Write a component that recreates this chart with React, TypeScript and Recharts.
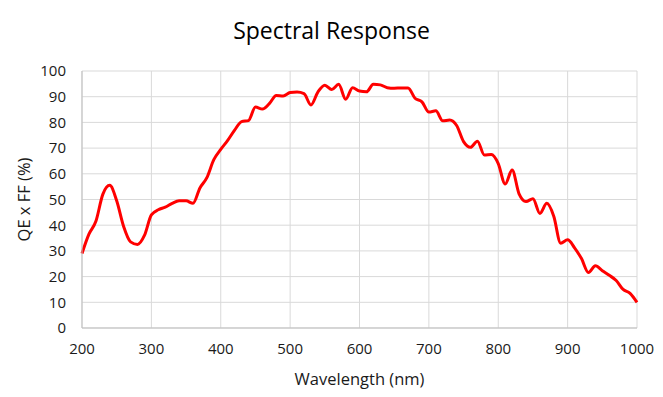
import { CartesianGrid, Label, Line, LineChart, XAxis, YAxis } from 'recharts';

// wavelength (nm) and QE x FF (%)
const wavelengths = [
  200, 210, 220, 230, 240, 250, 260, 270, 280, 290, 300, 310, 320, 330, 340, 350, 360, 370, 380, 390,
  400, 410, 420, 430, 440, 450, 460, 470, 480, 490, 500, 510, 520, 530, 540, 550, 560, 570, 580, 590,
  600, 610, 620, 630, 640, 650, 660, 670, 680, 690, 700, 710, 720, 730, 740, 750, 760, 770, 780, 790,
  800, 810, 820, 830, 840, 850, 860, 870, 880, 890, 900, 910, 920, 930, 940, 950, 960, 970, 980, 990,
  1000,
];
const qeff = [
  29, 36.5, 41.5, 52, 55.5, 49.5, 39.5, 33.5, 32.5, 36, 44, 46, 47, 48.5, 49.5, 49.5, 48.5, 54.5, 58.5, 65.5,
  69.5, 73, 77, 80.3, 80.7, 86, 85.2, 87.3, 90.5, 90.3, 91.6, 91.8, 91.2, 86.8, 91.8, 94.5, 92.8, 94.8, 89, 93.5,
  92.2, 91.9, 94.8, 94.6, 93.5, 93.3, 93.4, 93.4, 89.4, 88, 84, 84.5, 80.6, 80.9, 78.8, 72.5, 70.3, 72.7, 67.3, 67.5,
  64, 56, 61.5, 52.2, 49.2, 50.3, 44.6, 48.5, 43.5, 33, 34.3, 31.2, 27, 21.6, 24.2, 22.3, 20.5, 18.5, 15, 13.5,
  10,
];
const xTicks = [200, 300, 400, 500, 600, 700, 800, 900, 1000];
const yTicks = [0, 10, 20, 30, 40, 50, 60, 70, 80, 90, 100];

const data = wavelengths.map((w, i) => ({ w, qe: qeff[i] }));

const font = '"Open Sans", "Liberation Sans", sans-serif';
const tickStyle = { fontSize: 15, fill: '#1a1a1a', fontFamily: font };
const labelStyle = { fontSize: 16.5, fill: '#1a1a1a', fontFamily: font };

export default function App() {
  return (
    <div style={{ position: 'fixed', left: 0, top: 0, width: 663, height: 397, background: '#fff', fontFamily: font }}>
      <div
        style={{
          position: 'absolute',
          top: 14,
          width: 663,
          textAlign: 'center',
          fontSize: 23,
          color: '#000',
        }}
      >
        Spectral Response
      </div>
      <LineChart width={663} height={397} data={data} margin={{ top: 71, right: 26, left: 0, bottom: 0 }}>
        <CartesianGrid stroke="#d9d9d9" strokeWidth={1} />
        <XAxis
          dataKey="w"
          type="number"
          domain={[200, 1000]}
          ticks={xTicks}
          height={69}
          tickLine={false}
          axisLine={{ stroke: '#bfbfbf' }}
          tick={tickStyle}
          tickMargin={9}
        >
          <Label value="Wavelength (nm)" position="insideBottom" offset={12} style={labelStyle} />
        </XAxis>
        <YAxis
          type="number"
          domain={[0, 100]}
          ticks={yTicks}
          width={82}
          tickLine={false}
          axisLine={{ stroke: '#bfbfbf' }}
          tick={tickStyle}
          tickMargin={10}
        >
          <Label
            value="QE x FF (%)"
            angle={-90}
            position="insideLeft"
            offset={24}
            style={{ ...labelStyle, textAnchor: 'middle' }}
          />
        </YAxis>
        <Line
          type="monotone"
          dataKey="qe"
          stroke="#ff0000"
          strokeWidth={3}
          dot={false}
          activeDot={false}
          isAnimationActive={false}
        />
      </LineChart>
    </div>
  );
}
